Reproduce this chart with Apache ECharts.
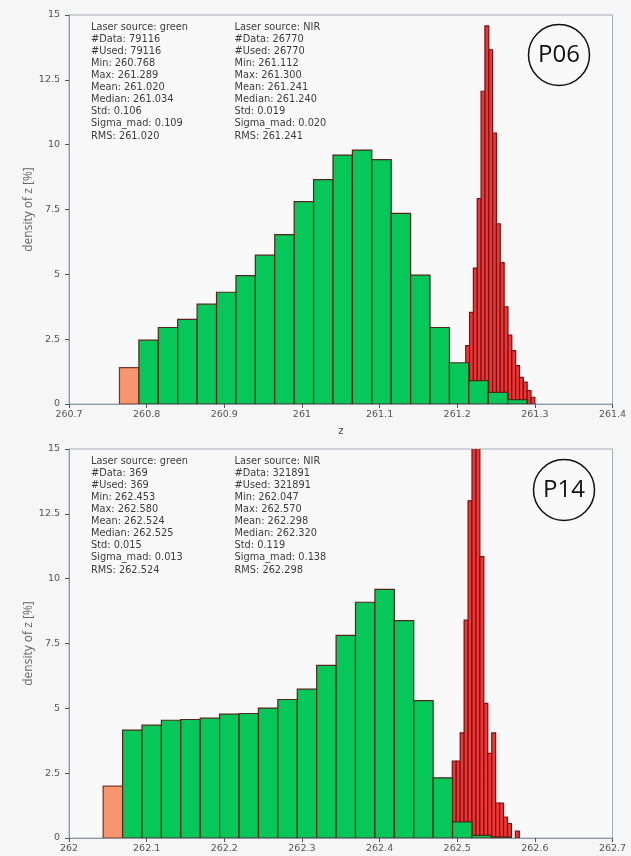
<!DOCTYPE html>
<html>
<head>
<meta charset="utf-8">
<script src="https://cdn.jsdelivr.net/npm/echarts@6/dist/echarts.min.js"></script>
<style>
  html, body { margin: 0; padding: 0; background: #f6f6f7; }
  #chart { width: 631px; height: 856px; }
</style>
</head>
<body>
<div id="chart"></div>
<script>
// P06 - bins (density in %)
var topGreenStart = 260.765, topGreenWidth = 0.025;
var topGreen = [1.40, 2.46, 2.95, 3.26, 3.85, 4.31, 4.95, 5.74, 6.53, 7.80, 8.65,
                9.60, 9.79, 9.42, 7.35, 4.97, 2.95, 1.59, 0.90, 0.45, 0.17];
var topRedMin = 261.112, topRedMax = 261.300;
var topRed = [0.01, 0.01, 0.02, 0.02, 0.03, 0.04, 0.05, 0.06, 0.08, 0.10,
              0.12, 0.15, 0.20, 0.25, 0.35, 0.45, 0.60, 0.80, 1.00, 1.30,
              2.25, 3.53, 5.24, 7.92, 12.06, 14.58, 13.66, 10.45, 6.95, 5.45,
              3.75, 2.66, 2.06, 1.48, 1.03, 0.84, 0.52, 0.26];

// P14
var botGreenStart = 262.044, botGreenWidth = 0.025;
var botGreen = [2.00, 4.16, 4.35, 4.54, 4.57, 4.62, 4.78, 4.80, 5.01, 5.34, 5.74,
                6.66, 7.81, 9.09, 9.59, 8.38, 5.30, 2.32, 0.62, 0.10, 0.04];
var botRedMin = 262.453, botRedMax = 262.580;
var botRed = [0.05, 0.10, 0.15, 0.25, 0.40, 0.60, 0.90, 1.40,
              2.97, 2.97, 4.05, 8.40, 13.00, 17.50, 16.00, 10.85, 5.19, 3.26,
              4.05, 1.35, 1.35, 0.81, 0.56, 0, 0.27];

var yTicks = [0, 2.5, 5, 7.5, 10, 12.5, 15];

var topStatsGreen = ['Laser source: green', '#Data: 79116', '#Used: 79116', 'Min: 260.768',
  'Max: 261.289', 'Mean: 261.020', 'Median: 261.034', 'Std: 0.106', 'Sigma_mad: 0.109', 'RMS: 261.020'];
var topStatsNir = ['Laser source: NIR', '#Data: 26770', '#Used: 26770', 'Min: 261.112',
  'Max: 261.300', 'Mean: 261.241', 'Median: 261.240', 'Std: 0.019', 'Sigma_mad: 0.020', 'RMS: 261.241'];
var botStatsGreen = ['Laser source: green', '#Data: 369', '#Used: 369', 'Min: 262.453',
  'Max: 262.580', 'Mean: 262.524', 'Median: 262.525', 'Std: 0.015', 'Sigma_mad: 0.013', 'RMS: 262.524'];
var botStatsNir = ['Laser source: NIR', '#Data: 321891', '#Used: 321891', 'Min: 262.047',
  'Max: 262.570', 'Mean: 262.298', 'Median: 262.320', 'Std: 0.119', 'Sigma_mad: 0.138', 'RMS: 262.298'];

function bins(start, width, values) {
  return values.map(function (v, i) {
    return [start + i * width, start + (i + 1) * width, v, i];
  });
}

function histo(fill, stroke, firstFill, firstStroke) {
  return function (params, api) {
    var h = api.value(2);
    if (!h) return;
    var p0 = api.coord([api.value(0), h]);
    var p1 = api.coord([api.value(1), 0]);
    var first = api.value(3) === 0 && firstFill;
    return {
      type: 'rect',
      shape: { x: p0[0], y: p0[1], width: p1[0] - p0[0], height: p1[1] - p0[1] },
      style: { fill: first ? firstFill : fill, stroke: first ? firstStroke : stroke, lineWidth: 1.2 }
    };
  };
}

var green = '#06c75a', greenLine = '#552619';
var orange = '#f7966e', orangeLine = '#7a3320';
var red = '#ee3636', redLine = '#781212';

function xAxis(idx, min, max) {
  return {
    type: 'value', gridIndex: idx, min: min, max: max, interval: 0.1,
    name: 'z', nameLocation: 'middle', nameGap: 22,
    nameTextStyle: { color: '#444', fontSize: 10, fontFamily: 'DejaVu Sans' },
    axisLine: { lineStyle: { color: '#8f98aa' } },
    axisTick: { length: 4, lineStyle: { color: '#555' } },
    axisLabel: { color: '#555', fontSize: 9.5, fontFamily: 'DejaVu Sans', margin: 6,
      formatter: function (v) { return String(+v.toFixed(1)); } },
    splitLine: { show: false }
  };
}

function yAxis(idx) {
  return {
    type: 'value', gridIndex: idx, min: 0, max: 15, interval: 2.5,
    name: 'density of z [%]', nameLocation: 'middle', nameGap: 34, nameMoveOverlap: false,
    nameTextStyle: { color: '#666', fontSize: 12, fontFamily: 'Open Sans' },
    axisLine: { show: true, lineStyle: { color: '#8f98aa' } },
    axisTick: { show: true, length: 4, lineStyle: { color: '#555' } },
    axisLabel: { color: '#555', fontSize: 9.5, fontFamily: 'DejaVu Sans', margin: 9,
      formatter: function (v) { return yTicks.indexOf(v) >= 0 ? String(v) : ''; } },
    splitLine: { show: false }
  };
}

function statText(left, top, lines) {
  return {
    type: 'text', left: left, top: top, z: 100,
    style: { text: lines.join('\n'), fill: '#3c3c3c', font: '9.8px "DejaVu Sans"', lineHeight: 12.1 }
  };
}

function badge(cx, cy, label) {
  return {
    type: 'group', z: 100,
    children: [
      { type: 'circle', shape: { cx: cx, cy: cy, r: 30.5 },
        style: { fill: 'none', stroke: '#111', lineWidth: 1.5 } },
      { type: 'text', x: cx, y: cy,
        style: { text: label, fill: '#111', font: '24px "Open Sans"', align: 'center', verticalAlign: 'middle' } }
    ]
  };
}

var chart = echarts.init(document.getElementById('chart'));
chart.setOption({
  backgroundColor: '#f6f6f7',
  animation: false,
  grid: [
    { left: 69, width: 543.5, top: 15, height: 389, show: true, outerBoundsMode: 'none',
      backgroundColor: '#f9f9fa', borderColor: '#a3abbb', borderWidth: 1 },
    { left: 69, width: 543.5, top: 449, height: 389, show: true, outerBoundsMode: 'none',
      backgroundColor: '#f9f9fa', borderColor: '#a3abbb', borderWidth: 1 }
  ],
  xAxis: [xAxis(0, 260.7, 261.4), xAxis(1, 262, 262.7)],
  yAxis: [yAxis(0), yAxis(1)],
  series: [
    { type: 'custom', xAxisIndex: 0, yAxisIndex: 0, clip: true,
      renderItem: histo(red, redLine),
      encode: { x: [0, 1], y: 2 },
      data: bins(topRedMin, (topRedMax - topRedMin) / topRed.length, topRed) },
    { type: 'custom', xAxisIndex: 0, yAxisIndex: 0, clip: true,
      renderItem: histo(green, greenLine, orange, orangeLine),
      encode: { x: [0, 1], y: 2 },
      data: bins(topGreenStart, topGreenWidth, topGreen) },
    { type: 'custom', xAxisIndex: 1, yAxisIndex: 1, clip: true,
      renderItem: histo(red, redLine),
      encode: { x: [0, 1], y: 2 },
      data: bins(botRedMin, (botRedMax - botRedMin) / botRed.length, botRed) },
    { type: 'custom', xAxisIndex: 1, yAxisIndex: 1, clip: true,
      renderItem: histo(green, greenLine, orange, orangeLine),
      encode: { x: [0, 1], y: 2 },
      data: bins(botGreenStart, botGreenWidth, botGreen) }
  ],
  graphic: [
    statText(91, 21, topStatsGreen),
    statText(234.5, 21, topStatsNir),
    statText(91, 455, botStatsGreen),
    statText(234.5, 455, botStatsNir),
    badge(559, 55, 'P06'),
    badge(564, 490, 'P14')
  ]
});
</script>
</body>
</html>
